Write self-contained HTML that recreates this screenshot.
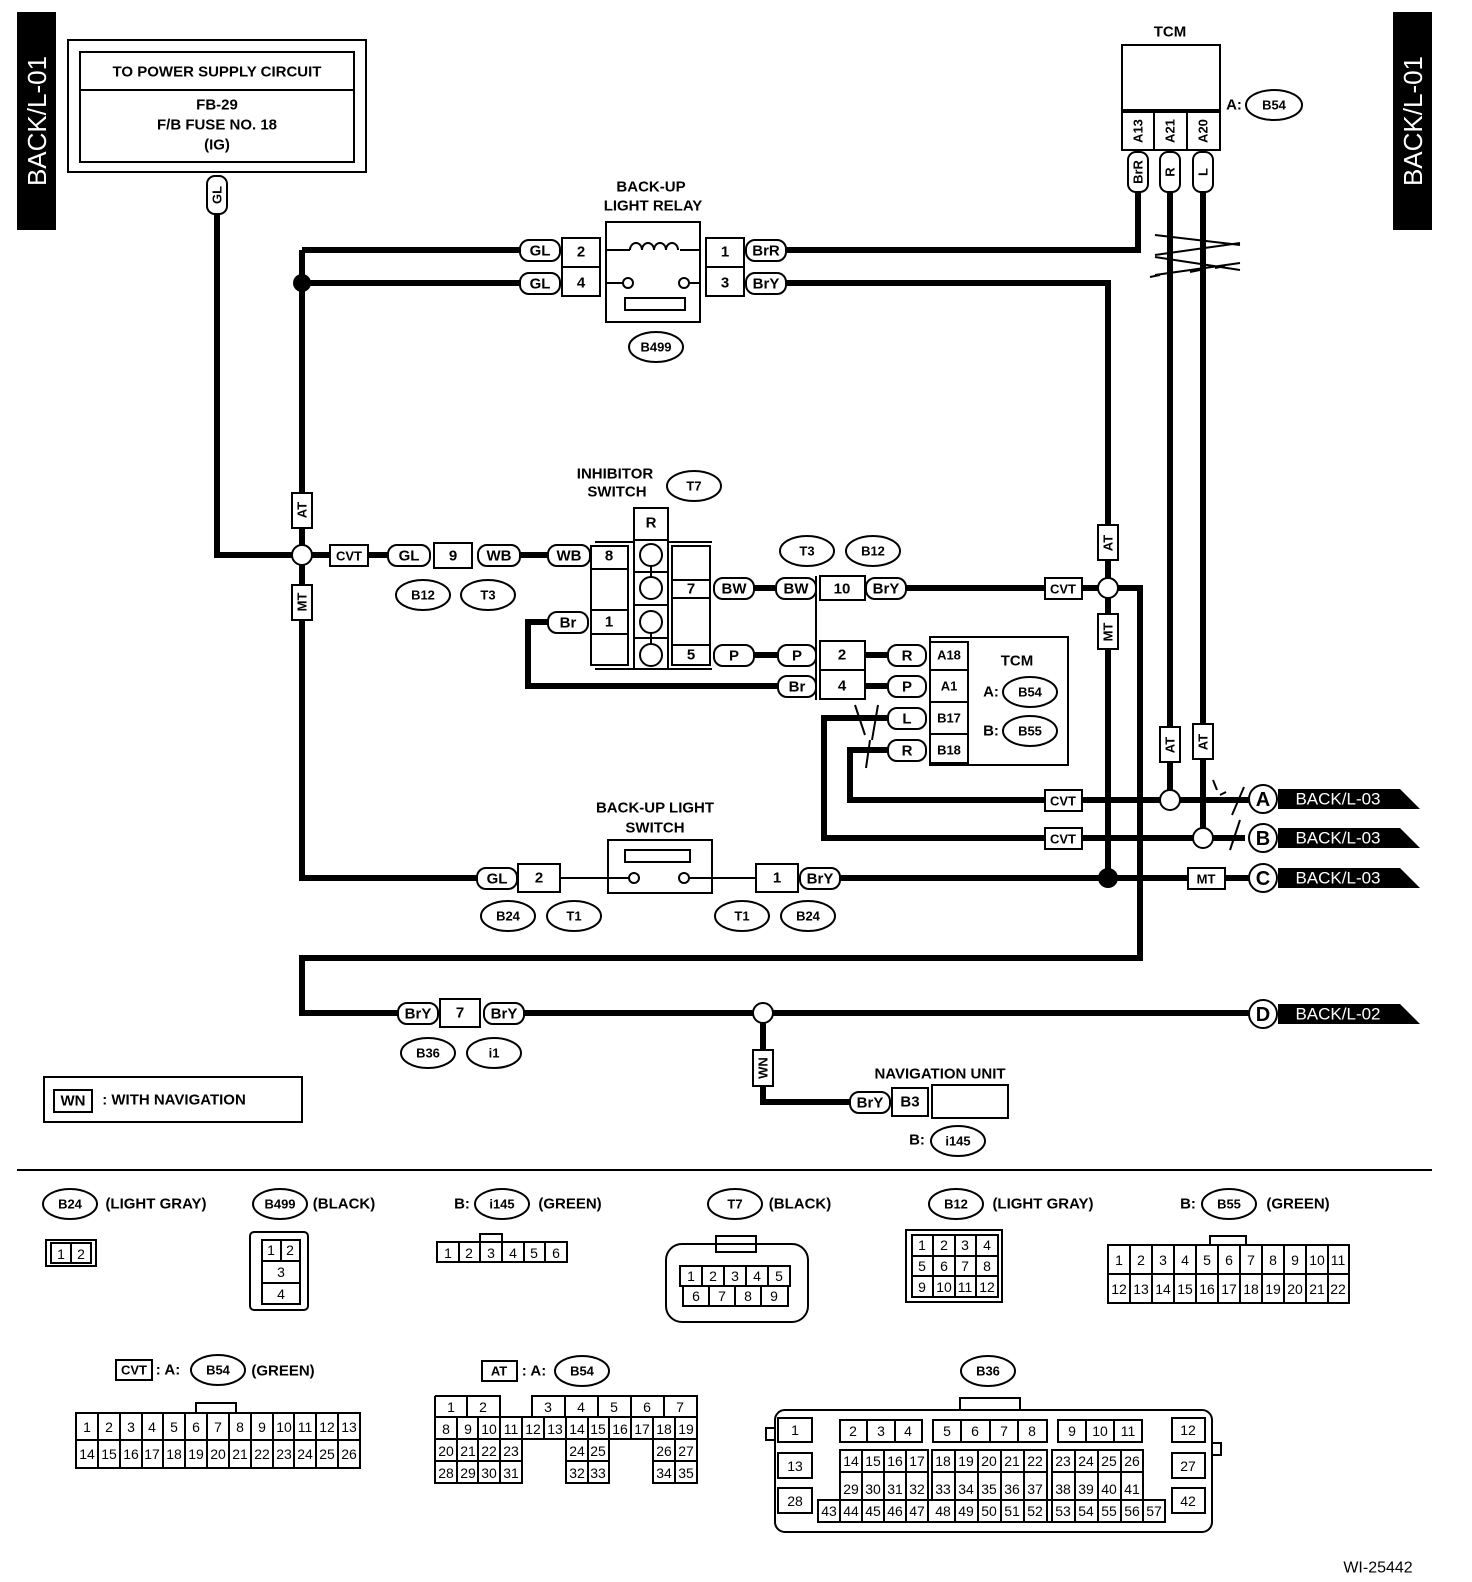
<!DOCTYPE html>
<html><head><meta charset="utf-8"><style>
html,body{margin:0;padding:0;background:#fff}
svg{display:block}
text{font-family:"Liberation Sans",sans-serif;font-weight:bold;font-size:15px;text-anchor:middle;dominant-baseline:central;fill:#000}
.w{fill:none;stroke:#000;stroke-width:6}
.t{fill:none;stroke:#000;stroke-width:2}
.b{fill:#fff;stroke:#000;stroke-width:2}
.s{font-size:13px}
.g{font-size:14px;font-weight:normal}
</style></head><body>
<svg width="1472" height="1582" viewBox="0 0 1472 1582" xmlns="http://www.w3.org/2000/svg">
<!-- tabs -->
<rect x="17" y="12" width="39" height="218" fill="#000"/>
<text x="37" y="121" transform="rotate(-90 37 121)" style="fill:#fff;font-size:26px;font-weight:normal">BACK/L-01</text>
<rect x="1393" y="12" width="39" height="218" fill="#000"/>
<text x="1413" y="121" transform="rotate(-90 1413 121)" style="fill:#fff;font-size:26px;font-weight:normal">BACK/L-01</text>

<!-- power box -->
<rect x="68" y="40" width="298" height="132" class="t"/>
<rect x="80" y="52" width="274" height="110" class="t"/>
<line x1="80" y1="90" x2="354" y2="90" class="t"/>
<text x="217" y="72">TO POWER SUPPLY CIRCUIT</text>
<text x="217" y="105">FB-29</text>
<text x="217" y="125">F/B FUSE NO. 18</text>
<text x="217" y="145">(IG)</text>

<!-- wires -->
<path class="w" d="M217,212 V555 H330 M302,250 V878 H477 M302,250 H520 M302,283 H520
M785,250 H1138 V190 M785,283 H1108 V878 M368,555 H388 M520,555 H548
M754,588 H775 M905,588 H1045 M1082,588 H1140 V958 H302 V1013 H398
M752,655 H778 M865,655 H888 M865,686 H888 M778,686 H528 V622 H548
M888,718 H824 V838 H1045 M1082,838 H1245 M888,750 H850 V800 H1045 M1082,800 H1250
M1170,190 V800 M1203,190 V838 M840,878 H1188 M1225,878 H1250 M524,1013 H1250 M763,1013 V1102 H850"/>
<circle cx="302" cy="283" r="9"/>
<circle cx="1108" cy="878" r="10"/>
<circle cx="302" cy="555" r="10" class="b"/>
<circle cx="1108" cy="588" r="10" class="b"/>
<circle cx="1170" cy="800" r="10" class="b"/>
<circle cx="1203" cy="838" r="10" class="b"/>
<circle cx="763" cy="1013" r="10" class="b"/>

<!-- twisted marks -->
<path class="t" d="M1155,235 L1240,245 M1155,255 L1240,243 M1155,257 L1240,270 M1155,275 L1240,263 M1150,277 l10,-2 M1190,272 l10,-2 M1215,268 l10,-2"/>
<path class="t" d="M855,705 L865,735 M870,740 L866,768 M878,705 L872,740"/>
<path class="t" d="M1213,780 l4,10 M1220,795 l6,-3 M1232,815 l12,-28 M1230,850 l10,-30"/>

<!-- vertical tags -->
<g>
<rect x="207" y="176" width="20" height="38" rx="8" class="b"/><text x="217" y="195" transform="rotate(-90 217 195)" class="s">GL</text>
<rect x="292" y="493" width="20" height="35" class="b"/><text x="302" y="510" transform="rotate(-90 302 510)" class="s">AT</text>
<rect x="292" y="585" width="20" height="35" class="b"/><text x="302" y="602" transform="rotate(-90 302 602)" class="s">MT</text>
<rect x="1098" y="525" width="20" height="35" class="b"/><text x="1108" y="543" transform="rotate(-90 1108 543)" class="s">AT</text>
<rect x="1098" y="614" width="20" height="35" class="b"/><text x="1108" y="632" transform="rotate(-90 1108 632)" class="s">MT</text>
<rect x="1160" y="727" width="20" height="35" class="b"/><text x="1170" y="745" transform="rotate(-90 1170 745)" class="s">AT</text>
<rect x="1193" y="724" width="20" height="35" class="b"/><text x="1203" y="742" transform="rotate(-90 1203 742)" class="s">AT</text>
<rect x="753" y="1050" width="20" height="36" class="b"/><text x="763" y="1068" transform="rotate(-90 763 1068)" class="s">WN</text>
</g>

<!-- TCM top -->
<text x="1170" y="32">TCM</text>
<rect x="1122" y="45" width="98" height="65" class="t"/>
<rect x="1122" y="112" width="98" height="38" class="b"/>
<line x1="1154" y1="112" x2="1154" y2="150" class="t"/><line x1="1187" y1="112" x2="1187" y2="150" class="t"/>
<text x="1138" y="131" transform="rotate(-90 1138 131)" class="s">A13</text>
<text x="1170" y="131" transform="rotate(-90 1170 131)" class="s">A21</text>
<text x="1203" y="131" transform="rotate(-90 1203 131)" class="s">A20</text>
<rect x="1128" y="152" width="20" height="40" rx="8" class="b"/><text x="1138" y="172" transform="rotate(-90 1138 172)" class="s">BrR</text>
<rect x="1160" y="152" width="20" height="40" rx="8" class="b"/><text x="1170" y="172" transform="rotate(-90 1170 172)" class="s">R</text>
<rect x="1193" y="152" width="20" height="40" rx="8" class="b"/><text x="1203" y="172" transform="rotate(-90 1203 172)" class="s">L</text>
<text x="1234" y="105">A:</text><ellipse cx="1274" cy="105" rx="28" ry="15" class="b"/><text x="1274" y="105" class="s">B54</text>

<!-- relay -->
<text x="651" y="187">BACK-UP</text><text x="653" y="206">LIGHT RELAY</text>
<rect x="606" y="222" width="94" height="100" class="t"/>
<path class="t" d="M606,250 H630 M680,250 H700 M630,250 a6,7 0 0 1 12,0 a6,7 0 0 1 12,0 a6,7 0 0 1 12,0 a6,7 0 0 1 12,0 M606,283 H623 M689,283 H700"/>
<circle cx="628" cy="283" r="5" class="b"/><circle cx="684" cy="283" r="5" class="b"/>
<rect x="625" y="298" width="60" height="12" class="t"/>
<rect x="562" y="238" width="38" height="58" class="b"/><line x1="562" y1="267" x2="600" y2="267" class="t"/>
<text x="581" y="252">2</text><text x="581" y="283">4</text>
<rect x="706" y="238" width="38" height="58" class="b"/><line x1="706" y1="267" x2="744" y2="267" class="t"/>
<text x="725" y="252">1</text><text x="725" y="283">3</text>
<rect x="520" y="240" width="40" height="21" rx="9" class="b"/><text x="540" y="251">GL</text>
<rect x="520" y="273" width="40" height="21" rx="9" class="b"/><text x="540" y="284">GL</text>
<rect x="746" y="240" width="40" height="21" rx="9" class="b"/><text x="766" y="251">BrR</text>
<rect x="746" y="273" width="40" height="21" rx="9" class="b"/><text x="766" y="284">BrY</text>
<ellipse cx="656" cy="347" rx="27" ry="15" class="b"/><text x="656" y="347" class="s">B499</text>

<!-- inhibitor -->
<text x="615" y="474">INHIBITOR</text><text x="617" y="492">SWITCH</text>
<ellipse cx="694" cy="486" rx="27" ry="15" class="b"/><text x="694" y="486" class="s">T7</text>
<rect x="634" y="508" width="34" height="32" class="b"/><text x="651" y="523">R</text>
<line x1="595" y1="542" x2="712" y2="542" class="t"/><line x1="595" y1="669" x2="712" y2="669" class="t"/>
<rect x="591" y="546" width="37" height="119" class="b"/>
<line x1="591" y1="569" x2="628" y2="569" class="t"/><line x1="591" y1="610" x2="628" y2="610" class="t"/><line x1="591" y1="634" x2="628" y2="634" class="t"/>
<text x="609" y="556">8</text><text x="609" y="622">1</text>
<rect x="634" y="540" width="34" height="129" class="b"/>
<line x1="634" y1="572" x2="668" y2="572" class="t"/><line x1="634" y1="605" x2="668" y2="605" class="t"/><line x1="634" y1="638" x2="668" y2="638" class="t"/>
<line x1="651" y1="555" x2="651" y2="588" class="t"/><line x1="651" y1="622" x2="651" y2="655" class="t"/>
<circle cx="651" cy="555" r="11" class="b"/><circle cx="651" cy="588" r="11" class="b"/><circle cx="651" cy="622" r="11" class="b"/><circle cx="651" cy="655" r="11" class="b"/>
<rect x="672" y="546" width="38" height="119" class="b"/>
<line x1="672" y1="580" x2="710" y2="580" class="t"/><line x1="672" y1="598" x2="710" y2="598" class="t"/><line x1="672" y1="645" x2="710" y2="645" class="t"/>
<text x="691" y="589">7</text><text x="691" y="655">5</text>
<rect x="330" y="545" width="38" height="21" class="b"/><text x="349" y="556" class="s">CVT</text>
<rect x="388" y="545" width="42" height="21" rx="9" class="b"/><text x="409" y="556">GL</text>
<rect x="434" y="543" width="38" height="25" class="b"/><text x="453" y="556">9</text>
<rect x="478" y="545" width="42" height="21" rx="9" class="b"/><text x="499" y="556">WB</text>
<rect x="548" y="545" width="42" height="21" rx="9" class="b"/><text x="569" y="556">WB</text>
<rect x="548" y="612" width="40" height="21" rx="9" class="b"/><text x="568" y="623">Br</text>
<ellipse cx="423" cy="595" rx="27" ry="15" class="b"/><text x="423" y="595" class="s">B12</text>
<ellipse cx="488" cy="595" rx="27" ry="15" class="b"/><text x="488" y="595" class="s">T3</text>
<rect x="714" y="578" width="40" height="21" rx="9" class="b"/><text x="734" y="589">BW</text>
<rect x="776" y="578" width="40" height="21" rx="9" class="b"/><text x="796" y="589">BW</text>
<rect x="714" y="645" width="40" height="21" rx="9" class="b"/><text x="734" y="656">P</text>
<rect x="778" y="645" width="38" height="21" rx="9" class="b"/><text x="797" y="656">P</text>
<rect x="778" y="676" width="38" height="21" rx="9" class="b"/><text x="797" y="687">Br</text>
<ellipse cx="807" cy="551" rx="27" ry="15" class="b"/><text x="807" y="551" class="s">T3</text>
<ellipse cx="873" cy="551" rx="27" ry="15" class="b"/><text x="873" y="551" class="s">B12</text>
<rect x="820" y="576" width="45" height="24" class="b"/><text x="842" y="589">10</text>
<rect x="820" y="641" width="45" height="58" class="b"/><line x1="820" y1="670" x2="865" y2="670" class="t"/>
<text x="842" y="655">2</text><text x="842" y="686">4</text>
<line x1="816" y1="576" x2="816" y2="700" class="t"/>
<rect x="866" y="578" width="40" height="21" rx="9" class="b"/><text x="886" y="589">BrY</text>
<rect x="1045" y="578" width="37" height="21" class="b"/><text x="1063" y="589" class="s">CVT</text>

<!-- TCM middle -->
<rect x="930" y="637" width="138" height="128" class="t"/>
<rect x="930" y="642" width="38" height="121" class="b"/>
<line x1="930" y1="670" x2="968" y2="670" class="t"/><line x1="930" y1="702" x2="968" y2="702" class="t"/><line x1="930" y1="734" x2="968" y2="734" class="t"/>
<text x="949" y="655" class="s">A18</text><text x="949" y="686" class="s">A1</text><text x="949" y="718" class="s">B17</text><text x="949" y="750" class="s">B18</text>
<text x="1017" y="661">TCM</text>
<text x="991" y="692">A:</text><ellipse cx="1030" cy="692" rx="27" ry="15" class="b"/><text x="1030" y="692" class="s">B54</text>
<text x="991" y="731">B:</text><ellipse cx="1030" cy="731" rx="27" ry="15" class="b"/><text x="1030" y="731" class="s">B55</text>
<rect x="888" y="645" width="38" height="21" rx="9" class="b"/><text x="907" y="656">R</text>
<rect x="888" y="676" width="38" height="21" rx="9" class="b"/><text x="907" y="687">P</text>
<rect x="888" y="708" width="38" height="21" rx="9" class="b"/><text x="907" y="719">L</text>
<rect x="888" y="740" width="38" height="21" rx="9" class="b"/><text x="907" y="751">R</text>
<rect x="1045" y="790" width="37" height="21" class="b"/><text x="1063" y="801" class="s">CVT</text>
<rect x="1045" y="828" width="37" height="21" class="b"/><text x="1063" y="839" class="s">CVT</text>

<!-- backup switch -->
<text x="655" y="808">BACK-UP LIGHT</text><text x="655" y="828">SWITCH</text>
<rect x="608" y="840" width="104" height="53" class="t"/>
<rect x="625" y="850" width="65" height="12" class="t"/>
<path class="t" d="M560,878 H629 M689,878 H756"/>
<circle cx="634" cy="878" r="5" class="b"/><circle cx="684" cy="878" r="5" class="b"/>
<rect x="477" y="868" width="40" height="21" rx="9" class="b"/><text x="497" y="879">GL</text>
<rect x="518" y="864" width="42" height="28" class="b"/><text x="539" y="878">2</text>
<rect x="756" y="864" width="42" height="28" class="b"/><text x="777" y="878">1</text>
<rect x="800" y="868" width="40" height="21" rx="9" class="b"/><text x="820" y="879">BrY</text>
<rect x="1188" y="868" width="37" height="21" class="b"/><text x="1206" y="879" class="s">MT</text>
<ellipse cx="508" cy="916" rx="27" ry="15" class="b"/><text x="508" y="916" class="s">B24</text>
<ellipse cx="574" cy="916" rx="27" ry="15" class="b"/><text x="574" y="916" class="s">T1</text>
<ellipse cx="742" cy="916" rx="27" ry="15" class="b"/><text x="742" y="916" class="s">T1</text>
<ellipse cx="808" cy="916" rx="27" ry="15" class="b"/><text x="808" y="916" class="s">B24</text>

<!-- bottom line -->
<rect x="398" y="1003" width="40" height="21" rx="9" class="b"/><text x="418" y="1014">BrY</text>
<rect x="440" y="999" width="40" height="28" class="b"/><text x="460" y="1013">7</text>
<rect x="484" y="1003" width="40" height="21" rx="9" class="b"/><text x="504" y="1014">BrY</text>
<ellipse cx="428" cy="1053" rx="27" ry="15" class="b"/><text x="428" y="1053" class="s">B36</text>
<ellipse cx="494" cy="1053" rx="27" ry="15" class="b"/><text x="494" y="1053" class="s">i1</text>
<text x="940" y="1074">NAVIGATION UNIT</text>
<rect x="850" y="1092" width="40" height="21" rx="9" class="b"/><text x="870" y="1103">BrY</text>
<rect x="892" y="1088" width="36" height="28" class="b"/><text x="910" y="1102">B3</text>
<rect x="932" y="1085" width="76" height="33" class="t"/>
<text x="917" y="1140">B:</text><ellipse cx="958" cy="1141" rx="27" ry="15" class="b"/><text x="958" y="1141" class="s">i145</text>

<!-- ends -->
<g>
<circle cx="1263" cy="799" r="14" class="b"/><text x="1263" y="800" style="font-size:20px">A</text>
<polygon points="1278,789 1400,789 1420,809 1278,809"/><text x="1338" y="799" style="fill:#fff;font-weight:normal;font-size:17px">BACK/L-03</text>
<circle cx="1263" cy="838" r="14" class="b"/><text x="1263" y="839" style="font-size:20px">B</text>
<polygon points="1278,828 1400,828 1420,848 1278,848"/><text x="1338" y="838" style="fill:#fff;font-weight:normal;font-size:17px">BACK/L-03</text>
<circle cx="1263" cy="878" r="14" class="b"/><text x="1263" y="879" style="font-size:20px">C</text>
<polygon points="1278,868 1400,868 1420,888 1278,888"/><text x="1338" y="878" style="fill:#fff;font-weight:normal;font-size:17px">BACK/L-03</text>
<circle cx="1263" cy="1014" r="14" class="b"/><text x="1263" y="1015" style="font-size:20px">D</text>
<polygon points="1278,1004 1400,1004 1420,1024 1278,1024"/><text x="1338" y="1014" style="fill:#fff;font-weight:normal;font-size:17px">BACK/L-02</text>
</g>

<!-- legend -->
<rect x="44" y="1077" width="258" height="45" class="t"/>
<rect x="54" y="1090" width="38" height="22" class="b"/><text x="73" y="1101">WN</text>
<text x="174" y="1100">: WITH NAVIGATION</text>
<line x1="17" y1="1170" x2="1432" y2="1170" class="t"/>

<!-- B24 -->
<ellipse cx="70" cy="1204" rx="27" ry="15" class="b"/><text x="70" y="1204" class="s">B24</text><text x="156" y="1204">(LIGHT GRAY)</text>
<rect x="46" y="1240" width="50" height="26" class="t"/><rect x="51" y="1243" width="40" height="20" class="t"/><line x1="71" y1="1243" x2="71" y2="1263" class="t"/>
<text x="61" y="1254" class="g">1</text><text x="81" y="1254" class="g">2</text>
<!-- B499 -->
<ellipse cx="280" cy="1204" rx="27" ry="15" class="b"/><text x="280" y="1204" class="s">B499</text><text x="344" y="1204">(BLACK)</text>
<rect x="250" y="1232" width="58" height="78" rx="4" class="t"/><rect x="262" y="1240" width="38" height="64" class="t"/>
<line x1="262" y1="1261" x2="300" y2="1261" class="t"/><line x1="262" y1="1283" x2="300" y2="1283" class="t"/><line x1="281" y1="1240" x2="281" y2="1261" class="t"/>
<text x="271" y="1250" class="g">1</text><text x="290" y="1250" class="g">2</text><text x="281" y="1272" class="g">3</text><text x="281" y="1294" class="g">4</text>
<!-- i145 -->
<text x="462" y="1204">B:</text><ellipse cx="502" cy="1204" rx="27" ry="15" class="b"/><text x="502" y="1204" class="s">i145</text><text x="570" y="1204">(GREEN)</text>
<rect x="437" y="1242" width="130" height="20" class="t"/><rect x="480" y="1234" width="22" height="8" class="t"/>
<path class="t" d="M459,1242V1262M480,1242V1262M502,1242V1262M524,1242V1262M545,1242V1262"/>
<text x="448" y="1253" class="g">1</text><text x="469" y="1253" class="g">2</text><text x="491" y="1253" class="g">3</text><text x="513" y="1253" class="g">4</text><text x="534" y="1253" class="g">5</text><text x="556" y="1253" class="g">6</text>
<!-- T7 -->
<ellipse cx="735" cy="1204" rx="27" ry="15" class="b"/><text x="735" y="1204" class="s">T7</text><text x="800" y="1204">(BLACK)</text>
<rect x="666" y="1244" width="142" height="78" rx="16" class="t"/><rect x="716" y="1236" width="40" height="16" class="t"/>
<rect x="680" y="1266" width="110" height="20" class="t"/><rect x="683" y="1286" width="105" height="20" class="t"/>
<path class="t" d="M702,1266V1286M724,1266V1286M746,1266V1286M768,1266V1286M709,1286V1306M735,1286V1306M761,1286V1306"/>
<text x="691" y="1276" class="g">1</text><text x="713" y="1276" class="g">2</text><text x="735" y="1276" class="g">3</text><text x="757" y="1276" class="g">4</text><text x="779" y="1276" class="g">5</text>
<text x="696" y="1296" class="g">6</text><text x="722" y="1296" class="g">7</text><text x="748" y="1296" class="g">8</text><text x="774" y="1296" class="g">9</text>
<!-- B12 -->
<ellipse cx="956" cy="1204" rx="27" ry="15" class="b"/><text x="956" y="1204" class="s">B12</text><text x="1043" y="1204">(LIGHT GRAY)</text>
<rect x="906" y="1230" width="96" height="72" class="t"/><rect x="912" y="1235" width="86" height="62" class="t"/>
<path class="t" d="M912,1256H998M912,1276H998M933,1235V1297M955,1235V1297M976,1235V1297"/>
<text x="922" y="1245" class="g">1</text><text x="944" y="1245" class="g">2</text><text x="965" y="1245" class="g">3</text><text x="987" y="1245" class="g">4</text>
<text x="922" y="1266" class="g">5</text><text x="944" y="1266" class="g">6</text><text x="965" y="1266" class="g">7</text><text x="987" y="1266" class="g">8</text>
<text x="922" y="1287" class="g">9</text><text x="944" y="1287" class="g">10</text><text x="965" y="1287" class="g">11</text><text x="987" y="1287" class="g">12</text>
<!-- B55 -->
<text x="1188" y="1204">B:</text><ellipse cx="1229" cy="1204" rx="27" ry="15" class="b"/><text x="1229" y="1204" class="s">B55</text><text x="1298" y="1204">(GREEN)</text>
<rect x="1108" y="1245" width="241" height="58" class="t"/><rect x="1210" y="1236" width="36" height="9" class="t"/>
<path class="t" d="M1108,1274H1349M1130,1245V1303M1152,1245V1303M1174,1245V1303M1196,1245V1303M1218,1245V1303M1240,1245V1303M1262,1245V1303M1284,1245V1303M1306,1245V1303M1328,1245V1303"/>
<text x="1119" y="1260" class="g">1</text><text x="1141" y="1260" class="g">2</text><text x="1163" y="1260" class="g">3</text><text x="1185" y="1260" class="g">4</text><text x="1207" y="1260" class="g">5</text><text x="1229" y="1260" class="g">6</text><text x="1251" y="1260" class="g">7</text><text x="1273" y="1260" class="g">8</text><text x="1295" y="1260" class="g">9</text><text x="1317" y="1260" class="g">10</text><text x="1338" y="1260" class="g">11</text>
<text x="1119" y="1289" class="g">12</text><text x="1141" y="1289" class="g">13</text><text x="1163" y="1289" class="g">14</text><text x="1185" y="1289" class="g">15</text><text x="1207" y="1289" class="g">16</text><text x="1229" y="1289" class="g">17</text><text x="1251" y="1289" class="g">18</text><text x="1273" y="1289" class="g">19</text><text x="1295" y="1289" class="g">20</text><text x="1317" y="1289" class="g">21</text><text x="1338" y="1289" class="g">22</text>

<!-- CVT B54 -->
<rect x="116" y="1360" width="36" height="20" class="b"/><text x="134" y="1370" class="s">CVT</text><text x="168" y="1370">: A:</text>
<ellipse cx="218" cy="1370" rx="27" ry="15" class="b"/><text x="218" y="1370" class="s">B54</text><text x="283" y="1371">(GREEN)</text>
<rect x="76" y="1413" width="284" height="55" class="t"/><rect x="196" y="1403" width="40" height="10" class="t"/>
<path class="t" d="M76,1440H360M98,1413V1468M120,1413V1468M142,1413V1468M163,1413V1468M185,1413V1468M207,1413V1468M229,1413V1468M251,1413V1468M273,1413V1468M294,1413V1468M316,1413V1468M338,1413V1468"/>
<text x="87" y="1427" class="g">1</text><text x="109" y="1427" class="g">2</text><text x="131" y="1427" class="g">3</text><text x="152" y="1427" class="g">4</text><text x="174" y="1427" class="g">5</text><text x="196" y="1427" class="g">6</text><text x="218" y="1427" class="g">7</text><text x="240" y="1427" class="g">8</text><text x="262" y="1427" class="g">9</text><text x="284" y="1427" class="g">10</text><text x="305" y="1427" class="g">11</text><text x="327" y="1427" class="g">12</text><text x="349" y="1427" class="g">13</text>
<text x="87" y="1454" class="g">14</text><text x="109" y="1454" class="g">15</text><text x="131" y="1454" class="g">16</text><text x="152" y="1454" class="g">17</text><text x="174" y="1454" class="g">18</text><text x="196" y="1454" class="g">19</text><text x="218" y="1454" class="g">20</text><text x="240" y="1454" class="g">21</text><text x="262" y="1454" class="g">22</text><text x="284" y="1454" class="g">23</text><text x="305" y="1454" class="g">24</text><text x="327" y="1454" class="g">25</text><text x="349" y="1454" class="g">26</text>

<!-- AT B54 -->
<rect x="482" y="1361" width="35" height="20" class="b"/><text x="499" y="1371" class="s">AT</text><text x="534" y="1371">: A:</text>
<ellipse cx="582" cy="1371" rx="27" ry="15" class="b"/><text x="582" y="1371" class="s">B54</text>
<path class="t" d="M435,1396H500V1417 M435,1396V1483H522V1439H566V1483H609V1439H653V1483H697V1396H532V1417 M435,1417H697 M435,1439H522 M566,1439H609 M653,1439H697 M435,1461H522 M566,1461H609 M653,1461H697
M467,1396V1417 M565,1396V1417 M598,1396V1417 M631,1396V1417 M664,1396V1417
M457,1417V1483 M478,1417V1483 M500,1417V1483 M522,1417V1439 M544,1417V1439 M566,1417V1439 M588,1417V1483 M609,1417V1439 M631,1417V1439 M653,1417V1439 M675,1417V1483"/>
<text x="451" y="1407" class="g">1</text><text x="483" y="1407" class="g">2</text><text x="548" y="1407" class="g">3</text><text x="581" y="1407" class="g">4</text><text x="614" y="1407" class="g">5</text><text x="647" y="1407" class="g">6</text><text x="680" y="1407" class="g">7</text>
<text x="446" y="1429" class="g">8</text><text x="468" y="1429" class="g">9</text><text x="489" y="1429" class="g">10</text><text x="511" y="1429" class="g">11</text><text x="533" y="1429" class="g">12</text><text x="555" y="1429" class="g">13</text><text x="577" y="1429" class="g">14</text><text x="598" y="1429" class="g">15</text><text x="620" y="1429" class="g">16</text><text x="642" y="1429" class="g">17</text><text x="664" y="1429" class="g">18</text><text x="686" y="1429" class="g">19</text>
<text x="446" y="1451" class="g">20</text><text x="468" y="1451" class="g">21</text><text x="489" y="1451" class="g">22</text><text x="511" y="1451" class="g">23</text><text x="577" y="1451" class="g">24</text><text x="598" y="1451" class="g">25</text><text x="664" y="1451" class="g">26</text><text x="686" y="1451" class="g">27</text>
<text x="446" y="1473" class="g">28</text><text x="468" y="1473" class="g">29</text><text x="489" y="1473" class="g">30</text><text x="511" y="1473" class="g">31</text><text x="577" y="1473" class="g">32</text><text x="598" y="1473" class="g">33</text><text x="664" y="1473" class="g">34</text><text x="686" y="1473" class="g">35</text>

<!-- B36 -->
<ellipse cx="988" cy="1371" rx="27" ry="15" class="b"/><text x="988" y="1371" class="s">B36</text>
<rect x="775" y="1410" width="437" height="122" rx="10" class="t"/><rect x="960" y="1398" width="60" height="12" class="t"/>
<rect x="766" y="1428" width="9" height="12" class="t"/><rect x="1212" y="1443" width="9" height="12" class="t"/>
<rect x="778" y="1418" width="34" height="24" class="t"/><text x="795" y="1430" class="g">1</text>
<rect x="778" y="1453" width="34" height="25" class="t"/><text x="795" y="1466" class="g">13</text>
<rect x="778" y="1488" width="34" height="25" class="t"/><text x="795" y="1501" class="g">28</text>
<rect x="1172" y="1418" width="33" height="24" class="t"/><text x="1188" y="1430" class="g">12</text>
<rect x="1172" y="1453" width="33" height="25" class="t"/><text x="1188" y="1466" class="g">27</text>
<rect x="1172" y="1488" width="33" height="25" class="t"/><text x="1188" y="1501" class="g">42</text>
<rect x="840" y="1420" width="82" height="22" class="t"/><path class="t" d="M867,1420V1442M895,1420V1442"/>
<text x="853" y="1431" class="g">2</text><text x="881" y="1431" class="g">3</text><text x="908" y="1431" class="g">4</text>
<rect x="933" y="1420" width="114" height="22" class="t"/><path class="t" d="M961,1420V1442M990,1420V1442M1018,1420V1442"/>
<text x="947" y="1431" class="g">5</text><text x="975" y="1431" class="g">6</text><text x="1004" y="1431" class="g">7</text><text x="1032" y="1431" class="g">8</text>
<rect x="1058" y="1420" width="84" height="22" class="t"/><path class="t" d="M1086,1420V1442M1114,1420V1442"/>
<text x="1072" y="1431" class="g">9</text><text x="1100" y="1431" class="g">10</text><text x="1128" y="1431" class="g">11</text>
<path class="t" d="M840,1450H928V1500H840Z M840,1472H928 M862,1450V1500 M884,1450V1500 M906,1450V1500
M932,1450H1047V1500H932Z M932,1472H1047 M955,1450V1500 M978,1450V1500 M1001,1450V1500 M1024,1450V1500
M1052,1450H1143V1500H1052Z M1052,1472H1143 M1075,1450V1500 M1098,1450V1500 M1121,1450V1500
M818,1500H1165V1522H818Z M840,1500V1522 M862,1500V1522 M884,1500V1522 M906,1500V1522 M928,1500V1522 M955,1500V1522 M978,1500V1522 M1001,1500V1522 M1024,1500V1522 M1047,1500V1522 M1052,1500V1522 M1075,1500V1522 M1098,1500V1522 M1121,1500V1522 M1143,1500V1522"/>
<text x="851" y="1461" class="g">14</text><text x="873" y="1461" class="g">15</text><text x="895" y="1461" class="g">16</text><text x="917" y="1461" class="g">17</text>
<text x="943" y="1461" class="g">18</text><text x="966" y="1461" class="g">19</text><text x="989" y="1461" class="g">20</text><text x="1012" y="1461" class="g">21</text><text x="1035" y="1461" class="g">22</text>
<text x="1063" y="1461" class="g">23</text><text x="1086" y="1461" class="g">24</text><text x="1109" y="1461" class="g">25</text><text x="1132" y="1461" class="g">26</text>
<text x="851" y="1489" class="g">29</text><text x="873" y="1489" class="g">30</text><text x="895" y="1489" class="g">31</text><text x="917" y="1489" class="g">32</text>
<text x="943" y="1489" class="g">33</text><text x="966" y="1489" class="g">34</text><text x="989" y="1489" class="g">35</text><text x="1012" y="1489" class="g">36</text><text x="1035" y="1489" class="g">37</text>
<text x="1063" y="1489" class="g">38</text><text x="1086" y="1489" class="g">39</text><text x="1109" y="1489" class="g">40</text><text x="1132" y="1489" class="g">41</text>
<text x="829" y="1511" class="g">43</text><text x="851" y="1511" class="g">44</text><text x="873" y="1511" class="g">45</text><text x="895" y="1511" class="g">46</text><text x="917" y="1511" class="g">47</text>
<text x="943" y="1511" class="g">48</text><text x="966" y="1511" class="g">49</text><text x="989" y="1511" class="g">50</text><text x="1012" y="1511" class="g">51</text><text x="1035" y="1511" class="g">52</text>
<text x="1063" y="1511" class="g">53</text><text x="1086" y="1511" class="g">54</text><text x="1109" y="1511" class="g">55</text><text x="1132" y="1511" class="g">56</text><text x="1154" y="1511" class="g">57</text>

<text x="1378" y="1568" style="font-weight:normal;font-size:16px">WI-25442</text>
</svg>
</body></html>
